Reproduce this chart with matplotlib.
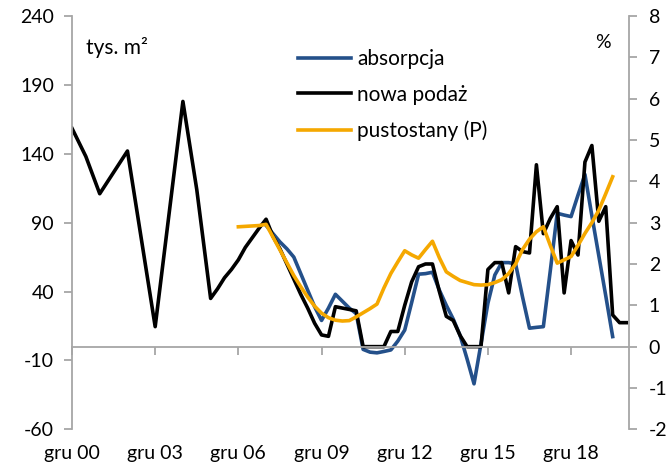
import numpy as np
import pandas as pd
import matplotlib
matplotlib.use("Agg")
import matplotlib.pyplot as plt

plt.rcParams['font.family'] = ['Lato', 'DejaVu Sans']
plt.rcParams['axes.unicode_minus'] = False

# kwartały od 2000Q4 do 2020Q4, brak = None
quarters = pd.period_range('2000Q4', '2020Q4', freq='Q')
N = None

nowa_podaz = [158.5, N, 138, N, 111, N, N, N, 142, N, N, N, 14.5, N, N, N,
              178, N, 114, N, 35, 42, 50, 56, 63, 72, 79, 86, 92.5, 80, 71, 60,
              49, 38, 28, 17, 8.5, 7.5, 29, 28, 27, 26, 0, 0, 0, 0,
              11, 11, 30, 47, 58, 60, 60, 40, 22, 19, 8, 0, 0, 0, 56, 61,
              61, 39, 72.6, 69, 68, 132, 82, 93, 101.6, 39, 77, 66.5, 134, 146,
              91, 101.6, 23, 17.4, 17.4]

absorpcja = [N] * 28 + [88, 82, 76, 71, 65, 53, 41, 29, 19, 28, 38, 33, 28, 24,
                        -2, -4, -4.5, -3.5, -2.4, 4, 12, 32, 52.6, 53, 54, 41, 30,
                        20, 8, -9, -27, 2, 31.5, 52, 61, 61, 60, 36, 13.4, 14,
                        14.5, 55, 96.8, 95.5, 94.4, 110, 125, 95, 66, 37, 7.3, N, N]

pustostany = [N] * 24 + [2.90, 2.91, 2.92, 2.93, 2.96, 2.65, 2.34, 2.03, 1.72, 1.45,
                         1.2, 0.98, 0.81, 0.7, 0.64, 0.62, 0.63, 0.72, 0.82, 0.92,
                         1.03, 1.42, 1.77, 2.05, 2.32, 2.22, 2.14, 2.35, 2.55, 2.15,
                         1.81, 1.7, 1.6, 1.55, 1.5, 1.49, 1.5, 1.55, 1.62, 1.77,
                         2.0, 2.35, 2.6, 2.78, 2.9, 2.45, 2.02, 2.1, 2.18, 2.45,
                         2.74, 3.0, 3.3, 3.7, 4.11, N, N]

tick_labels = ['gru 00', 'gru 03', 'gru 06', 'gru 09', 'gru 12', 'gru 15', 'gru 18']

BLUE = '#24508a'
ORANGE = '#f5a800'
GREY = '#a6a6a6'


def series(values):
    s = pd.Series(values, index=np.arange(len(quarters)), dtype=float).dropna()
    return s.index.values, s.values


fig = plt.figure(figsize=(6.71, 4.70), dpi=100)
ax = fig.add_axes([72 / 671, 1 - 429.3 / 470, (629.3 - 72) / 671, (429.3 - 16) / 470])
ax2 = ax.twinx()

x, y = series(absorpcja)
l1, = ax.plot(x, y, color=BLUE, lw=2.6, label='absorpcja')
x, y = series(nowa_podaz)
l2, = ax.plot(x, y, color='black', lw=2.6, label='nowa podaż')
x, y = series(pustostany)
l3, = ax2.plot(x, y, color=ORANGE, lw=2.6, label='pustostany (P)')

ax.set_xlim(0, 80.4)
ax.set_ylim(-60, 240)
ax.set_yticks(np.arange(-60, 241, 50))
ax2.set_ylim(-2, 8)
ax2.set_yticks(np.arange(-2, 9, 1))

for s in ['top', 'right']:
    ax.spines[s].set_visible(False)
for s in ['top', 'left', 'bottom']:
    ax2.spines[s].set_visible(False)
ax.spines['left'].set_color(GREY)
ax.spines['left'].set_linewidth(1.3)
ax2.spines['right'].set_color(GREY)
ax2.spines['right'].set_linewidth(1.3)
ax.spines['bottom'].set_position(('data', 0))
ax.spines['bottom'].set_color(GREY)
ax.spines['bottom'].set_linewidth(1.3)

xt = np.arange(0, 73, 12)
ax.set_xticks(xt)
ax.tick_params(axis='x', length=6, width=1.3, color=GREY, labelbottom=False)
ax.tick_params(axis='y', length=6, width=1.3, color=GREY, labelsize=14, pad=7)
ax2.tick_params(axis='y', length=6, width=1.3, color=GREY, labelsize=14, pad=8)

sec = ax.secondary_xaxis('bottom')
sec.set_xticks(xt, tick_labels)
sec.tick_params(length=0, labelsize=14, pad=11)
sec.spines['bottom'].set_visible(False)

fig.text(86 / 671, 1 - 48 / 470, 'tys. m²', fontsize=15, va='center', ha='left')
fig.text(603 / 671, 1 - 42 / 470, '%', fontsize=14, va='center', ha='center')

fig.legend(handles=[l1, l2, l3], loc='upper left', bbox_to_anchor=(298 / 671, 1 - 49 / 470),
           frameon=False, fontsize=15, handlelength=2.55, handletextpad=0.3,
           labelspacing=0.75, borderpad=0, borderaxespad=0)

fig.savefig('out.png', dpi=100)
